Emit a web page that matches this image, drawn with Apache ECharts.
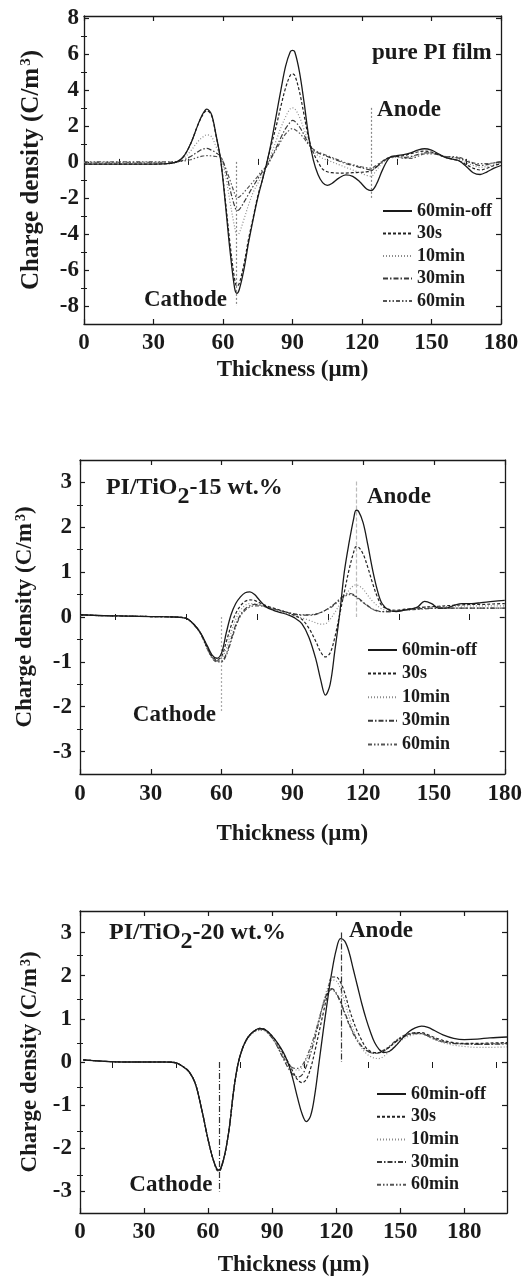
<!DOCTYPE html>
<html><head><meta charset="utf-8">
<script src="https://cdn.jsdelivr.net/npm/echarts@6/dist/echarts.min.js"></script>
<style>html,body{margin:0;padding:0;background:#fff}#c{width:525px;height:1278px}</style>
</head><body><div id="c"></div>
<script>
const NAMES = ['60min-off','30s','10min','30min','60min'];

// ---------- Panel 1 : pure PI film ----------
const X1 = [0,10,20,30,36, 40,43,46,49,51, 53,55,57,59,61, 63,65,66,67,69, 71,73,75,77,79, 81,83,85,87,89, 90,91,93,95,97, 99,101,103,105,107, 110,113,116,119,122, 124,126,129,132,135, 138,141,144,147,150, 153,156,159,162,165, 168,171,174,177,180];
const P1_OFF = [-0.12,-0.12,-0.12,-0.12,-0.1, 0.0,0.3,1.0,2.0,2.6, 2.93,2.65,1.5,0.1,-2.3, -4.9,-7.0,-7.3,-7.1,-6.0, -4.5,-3.2,-2.0,-1.0,0.0, 1.2,2.6,4.0,5.3,6.1, 6.19,6.1,5.0,3.3,1.4, 0.1,-0.7,-1.15,-1.3,-1.2, -0.9,-0.72,-0.8,-1.1,-1.5, -1.59,-1.3,-0.4,0.25,0.35, 0.4,0.5,0.65,0.73,0.65, 0.45,0.25,0.15,0.05,-0.25, -0.6,-0.7,-0.55,-0.35,-0.2];
const P1_30S = [-0.12,-0.12,-0.12,-0.12,-0.1, 0.0,0.3,1.0,2.0,2.55, 2.85,2.6,1.45,0.1,-2.1, -4.5,-6.5,-6.9,-6.75,-5.7, -4.3,-3.1,-1.9,-1.0,0.0, 1.0,2.0,3.1,4.1,4.8, 4.89,4.8,3.9,2.6,1.3, 0.5,0.0,-0.4,-0.55,-0.6, -0.62,-0.62,-0.6,-0.58,-0.55, -0.5,-0.3,0.05,0.25,0.3, 0.35,0.45,0.55,0.6,0.55, 0.4,0.25,0.15,0.05,-0.15, -0.35,-0.45,-0.35,-0.2,-0.1];
const P1_10M = [-0.05,-0.05,-0.05,-0.05,-0.05, 0.0,0.2,0.6,1.1,1.35, 1.5,1.4,0.85,0.25,-0.7, -2.2,-3.6,-4.05,-3.95,-3.2, -2.4,-1.7,-1.2,-0.7,-0.15, 0.5,1.2,1.9,2.5,2.95, 3.0,2.95,2.5,1.8,1.1, 0.6,0.35,0.2,0.1,0.0, -0.15,-0.3,-0.45,-0.6,-0.75, -0.8,-0.5,-0.05,0.2,0.25, 0.2,0.25,0.4,0.5,0.5, 0.4,0.3,0.25,0.15,-0.05, -0.2,-0.3,-0.25,-0.15,-0.05];
const P1_30M = [-0.02,-0.02,-0.02,-0.02,-0.02, 0.0,0.1,0.3,0.55,0.7, 0.75,0.65,0.5,0.3,-0.4, -1.5,-2.45,-2.7,-2.65,-2.25, -1.8,-1.35,-0.95,-0.55,-0.2, 0.3,0.8,1.35,1.85,2.2, 2.3,2.25,1.95,1.5,1.0, 0.65,0.5,0.4,0.3,0.2, 0.05,-0.1,-0.2,-0.3,-0.4, -0.45,-0.3,0.0,0.25,0.3, 0.25,0.3,0.4,0.5,0.5, 0.4,0.3,0.25,0.2,0.05, -0.1,-0.2,-0.15,-0.05,0.0];
const P1_60M = [0,0,0,0,0, 0.0,0.05,0.12,0.25,0.32, 0.35,0.33,0.3,0.25,-0.3, -1.0,-1.75,-1.98,-1.95,-1.7, -1.4,-1.1,-0.8,-0.45,-0.25, 0.25,0.7,1.15,1.55,1.8, 1.85,1.8,1.6,1.3,0.95, 0.7,0.55,0.45,0.35,0.25, 0.1,-0.05,-0.15,-0.25,-0.33, -0.35,-0.2,0.05,0.25,0.3, 0.2,0.2,0.3,0.45,0.45, 0.4,0.3,0.3,0.25,0.1, -0.05,-0.1,-0.1,-0.05,0.0];

// ---------- Panel 2 : PI/TiO2-15 wt.% ----------
const X2 = [0,10,20,30,40, 45,48,51,54,56, 58,60,62,64,66, 68,70,72,74,76, 79,82,85,88,91, 94,97,100,102,104, 106,108,110,112,114, 116,117,118,120,122, 124,126,128,131,134, 137,140,143,146,149, 152,155,158,162,166, 170,175,180];
const P2_OFF = [0.05,0.03,0.02,0.01,0.0, -0.03,-0.15,-0.35,-0.65,-0.85, -0.92,-0.8,-0.35,0.05,0.3, 0.45,0.54,0.56,0.5,0.38, 0.22,0.15,0.1,0.05,-0.02, -0.15,-0.45,-0.95,-1.4,-1.74, -1.5,-0.75,0.05,1.0,1.65, 2.2,2.38,2.36,2.1,1.6, 1.05,0.6,0.3,0.15,0.12, 0.15,0.18,0.22,0.35,0.3, 0.2,0.2,0.25,0.3,0.3, 0.32,0.35,0.37];
const P2_30S = [0.05,0.03,0.02,0.01,0.0, -0.03,-0.15,-0.35,-0.68,-0.88, -0.95,-0.88,-0.55,-0.2,0.08, 0.25,0.35,0.38,0.37,0.32, 0.25,0.2,0.15,0.1,0.03, -0.05,-0.25,-0.55,-0.78,-0.89, -0.8,-0.45,0.05,0.55,1.05, 1.45,1.57,1.56,1.4,1.1, 0.75,0.45,0.25,0.17,0.15, 0.17,0.18,0.2,0.22,0.23, 0.24,0.25,0.26,0.27,0.28, 0.28,0.29,0.3];
const P2_10M = [0.04,0.03,0.02,0.01,0.0, -0.03,-0.15,-0.35,-0.7,-0.9, -0.98,-0.93,-0.7,-0.35,-0.05, 0.15,0.26,0.3,0.3,0.27, 0.22,0.17,0.12,0.07,0.03, -0.02,-0.07,-0.13,-0.16,-0.15, -0.05,0.1,0.28,0.45,0.6, 0.7,0.72,0.7,0.62,0.48, 0.35,0.25,0.18,0.14,0.14, 0.16,0.18,0.2,0.22,0.22, 0.23,0.23,0.24,0.24,0.25, 0.25,0.25,0.25];
const P2_30M = [0.04,0.03,0.02,0.01,0.0, -0.03,-0.15,-0.35,-0.7,-0.9, -0.98,-0.98,-0.82,-0.5,-0.18, 0.05,0.18,0.25,0.28,0.27, 0.23,0.18,0.14,0.1,0.06, 0.04,0.04,0.06,0.1,0.15, 0.22,0.3,0.4,0.48,0.53, 0.5,0.46,0.42,0.33,0.25, 0.18,0.14,0.12,0.12,0.13, 0.15,0.17,0.18,0.19,0.2, 0.2,0.2,0.2,0.2,0.2, 0.2,0.2,0.2];
const P2_60M = [0.04,0.03,0.02,0.01,0.0, -0.03,-0.16,-0.37,-0.72,-0.92, -1.0,-1.0,-0.85,-0.55,-0.22, 0.02,0.15,0.22,0.25,0.25, 0.22,0.18,0.14,0.1,0.07, 0.05,0.05,0.07,0.1,0.15, 0.2,0.28,0.37,0.45,0.5, 0.48,0.45,0.4,0.32,0.24, 0.17,0.13,0.12,0.12,0.13, 0.15,0.16,0.17,0.18,0.19, 0.2,0.2,0.2,0.2,0.2, 0.2,0.2,0.2];

// ---------- Panel 3 : PI/TiO2-20 wt.% ----------
const X3 = [1.5,10,20,30,40, 45,48,51,54,57, 60,62,64,65,66, 68,70,72,74,76, 78,80,82,84,86, 88,90,92,94,96, 98,100,102,104,106, 108,110,112,114,116, 118,120,122,124,126, 128,130,132,134,136, 138,140,142,145,148, 151,154,157,160,163, 166,170,175,180,186, 192,200];
const P3_OFF = [0.05,0.02,0.0,0.0,0.0, -0.02,-0.1,-0.22,-0.5,-1.1, -1.8,-2.2,-2.47,-2.5,-2.45, -2.1,-1.5,-0.65,-0.05,0.3, 0.52,0.65,0.73,0.78,0.77, 0.7,0.6,0.48,0.33,0.15, -0.1,-0.45,-0.85,-1.2,-1.38, -1.25,-0.75,0.0,0.75,1.45, 2.1,2.6,2.86,2.8,2.55, 2.15,1.75,1.35,1.0,0.7, 0.45,0.3,0.22,0.25,0.38, 0.55,0.7,0.79,0.83,0.8, 0.73,0.63,0.55,0.52,0.53, 0.56,0.58];
const P3_30S = [0.05,0.02,0.0,0.0,0.0, -0.02,-0.1,-0.22,-0.5,-1.1, -1.8,-2.2,-2.5,-2.53,-2.48, -2.1,-1.5,-0.65,-0.05,0.3, 0.52,0.65,0.73,0.78,0.77, 0.7,0.6,0.47,0.3,0.12, -0.05,-0.25,-0.42,-0.48,-0.4, -0.15,0.25,0.7,1.15,1.6, 1.97,1.97,1.85,1.6,1.25, 0.95,0.7,0.5,0.33,0.25, 0.22,0.22,0.25,0.35,0.48, 0.58,0.65,0.68,0.68,0.63, 0.57,0.5,0.45,0.43,0.43, 0.44,0.45];
const P3_10M = [0.05,0.02,0.0,0.0,0.0, -0.02,-0.1,-0.22,-0.5,-1.1, -1.8,-2.2,-2.48,-2.52,-2.47, -2.1,-1.5,-0.65,-0.05,0.3, 0.5,0.63,0.7,0.73,0.73, 0.67,0.56,0.42,0.25,0.08, -0.05,-0.15,-0.19,-0.13,0.05, 0.3,0.65,1.0,1.4,1.72, 1.9,1.88,1.7,1.4,1.05, 0.75,0.5,0.32,0.2,0.13, 0.09,0.08,0.12,0.25,0.4, 0.52,0.6,0.64,0.65,0.6, 0.52,0.45,0.39,0.36,0.34, 0.34,0.35];
const P3_30M = [0.05,0.02,0.0,0.0,0.0, -0.02,-0.1,-0.22,-0.5,-1.1, -1.8,-2.2,-2.48,-2.52,-2.47, -2.1,-1.5,-0.65,-0.05,0.3, 0.52,0.65,0.73,0.76,0.75, 0.68,0.56,0.4,0.2,0.0, -0.18,-0.3,-0.35,-0.3,-0.1, 0.2,0.55,0.95,1.35,1.62, 1.7,1.6,1.4,1.15,0.9, 0.68,0.5,0.37,0.28,0.22, 0.2,0.21,0.25,0.35,0.47, 0.57,0.63,0.66,0.66,0.6, 0.54,0.47,0.43,0.42,0.41, 0.41,0.42];
const P3_60M = [0.05,0.02,0.0,0.0,0.0, -0.02,-0.1,-0.22,-0.5,-1.1, -1.8,-2.2,-2.48,-2.52,-2.47, -2.1,-1.5,-0.65,-0.05,0.3, 0.52,0.65,0.72,0.75,0.74, 0.67,0.55,0.4,0.22,0.05, -0.08,-0.14,-0.15,-0.08,0.1, 0.35,0.65,1.0,1.35,1.6, 1.68,1.58,1.38,1.12,0.87, 0.65,0.48,0.35,0.27,0.22, 0.2,0.22,0.27,0.37,0.5, 0.6,0.65,0.67,0.66,0.6, 0.53,0.47,0.43,0.42,0.41, 0.42,0.43];

// ---------- ticks ----------
const X_MAJ = [0,30,60,90,120,150,180];
const X_MIN_12 = [15,45,75,105,135,165];
const X_MIN_3 = [15,45,75,105,135,165,195];
const Y_MAJ_1 = [-8,-6,-4,-2,0,2,4,6,8];
const Y_MIN_1 = [-7,-5,-3,-1,1,3,5,7];
const Y_MAJ_23 = [-3,-2,-1,0,1,2,3];
const Y_MIN_23 = [-2.5,-1.5,-0.5,0.5,1.5,2.5];

const FONT = '"Liberation Serif", "Times New Roman", serif';
const INK = '#1a1a1a';
const STYLE = {
  '60min-off': {color:'#1a1a1a', width:1.3, type:'solid'},
  '30s':       {color:'#222222', width:1.2, type:[3,2]},
  '10min':     {color:'#8c8c8c', width:1.2, type:[1,2]},
  '30min':     {color:'#3a3a3a', width:1.2, type:[5,2,1.5,2]},
  '60min':     {color:'#555555', width:1.2, type:[4,2,1.5,2,1.5,2]}
};

const panels = [
  {rect:{left:84, top:16, width:417, height:308}, xMax:180, yMin:-9, yMax:8.1,
   xMaj:X_MAJ, xMin:X_MIN_12, yMaj:Y_MAJ_1, yMin_:Y_MIN_1,
   xGap:35, xMargin:8, yGap:40, yMargin:5, yNameSize:25,
   xs:X1, ys:[P1_OFF,P1_30S,P1_10M,P1_30M,P1_60M],
   legend:{left:382, top:202, gap:4.5},
   refs:[{x:65.9, y0:0, y1:-8, c:'#888', t:[2,2]}, {x:123.9, y0:3.0, y1:-2.1, c:'#888', t:[2,2]}],
   texts:[{c:[176,6.06], s:'pure PI film', a:'right'}, {c:[126.5,2.9], s:'Anode', a:'left'}, {c:[61.7,-7.67], s:'Cathode', a:'right'}]},
  {rect:{left:80, top:460, width:425, height:314}, xMax:180, yMin:-3.5, yMax:3.5,
   xMaj:X_MAJ, xMin:X_MIN_12, yMaj:Y_MAJ_23, yMin_:Y_MIN_23,
   xGap:49, xMargin:9, yGap:43, yMargin:8, yNameSize:23,
   xs:X2, ys:[P2_OFF,P2_30S,P2_10M,P2_30M,P2_60M],
   legend:{left:367, top:641, gap:5.6},
   refs:[{x:60.0, y0:0, y1:-2.11, c:'#aaa', t:[2,2]}, {x:117.2, y0:3.02, y1:0, c:'#bbb', t:[4,2]}],
   texts:[{c:[11,2.78], s:'15', a:'left', rich:true}, {c:[121.6,2.67], s:'Anode', a:'left'}, {c:[57.6,-2.19], s:'Cathode', a:'right'}]},
  {rect:{left:80, top:911, width:427, height:308}, xMax:200, yMin:-3.5, yMax:3.5,
   xMaj:X_MAJ, xMin:X_MIN_3, yMaj:Y_MAJ_23, yMin_:Y_MIN_23,
   xGap:41, xMargin:8, yGap:25, yMargin:8, yNameSize:23,
   xs:X3, ys:[P3_OFF,P3_30S,P3_10M,P3_30M,P3_60M],
   legend:{left:376, top:1085, gap:4.7},
   refs:[{x:65.0, y0:0, y1:-3.0, c:'#333', t:[6,2,1,2]}, {x:122.2, y0:3.0, y1:0, c:'#333', t:[6,2,1,2]}],
   texts:[{c:[13.6,2.9], s:'20', a:'left', rich:true}, {c:[126,3.03], s:'Anode', a:'left'}, {c:[62,-2.86], s:'Cathode', a:'right'}]}
];

const grid = [], xAxis = [], yAxis = [], series = [], legend = [];
const lbl = {fontFamily:FONT, fontWeight:'bold', fontSize:23, color:INK};
const axLine = {show:true, onZero:false, lineStyle:{color:INK, width:1.3}};

panels.forEach((p) => {
  const gMain = grid.length; grid.push(Object.assign({}, p.rect));
  const gMinor = grid.length; grid.push(Object.assign({}, p.rect));
  const xb = xAxis.length, yb = yAxis.length;
  const xBase = {type:'value', min:0, max:p.xMax, splitLine:{show:false}};
  const yBase = {type:'value', min:p.yMin, max:p.yMax, splitLine:{show:false}};
  xAxis.push(Object.assign({}, xBase, {gridIndex:gMain, position:'bottom', axisLine:axLine,
    axisTick:{show:true, inside:true, length:5, customValues:p.xMaj, lineStyle:{color:INK, width:1.2}},
    axisLabel:Object.assign({customValues:p.xMaj, margin:p.xMargin}, lbl),
    name:'Thickness (μm)', nameLocation:'middle', nameGap:p.xGap, nameTextStyle:lbl}));
  xAxis.push(Object.assign({}, xBase, {gridIndex:gMain, position:'top', axisLine:axLine,
    axisTick:{show:true, inside:true, length:5, customValues:p.xMaj, lineStyle:{color:INK, width:1.2}},
    axisLabel:{show:false}}));
  yAxis.push(Object.assign({}, yBase, {gridIndex:gMain, position:'left', axisLine:axLine,
    axisTick:{show:true, inside:true, length:5, customValues:p.yMaj, lineStyle:{color:INK, width:1.2}},
    axisLabel:Object.assign({customValues:p.yMaj, margin:p.yMargin}, lbl),
    name:'{m|Charge density (C/m}{s|3}{m|)}', nameLocation:'middle', nameGap:p.yGap, nameRotate:90,
    nameTextStyle:{rich:{m:{fontFamily:FONT, fontWeight:'bold', fontSize:p.yNameSize, color:INK, verticalAlign:'bottom'},
                         s:{fontFamily:FONT, fontWeight:'bold', fontSize:Math.round(p.yNameSize*0.6), color:INK, verticalAlign:'top', padding:[0,0,0,2]}}}}));
  yAxis.push(Object.assign({}, yBase, {gridIndex:gMain, position:'right', axisLine:axLine,
    axisTick:{show:true, inside:true, length:5, customValues:p.yMaj, lineStyle:{color:INK, width:1.2}},
    axisLabel:{show:false}}));
  const minorTick = (vals) => ({show:true, inside:true, length:3, customValues:vals, lineStyle:{color:INK, width:1}});
  xAxis.push(Object.assign({}, xBase, {gridIndex:gMinor, position:'bottom', axisLine:{show:false}, axisTick:minorTick(p.xMin), axisLabel:{show:false}}));
  xAxis.push(Object.assign({}, xBase, {gridIndex:gMinor, position:'top', axisLine:{show:false}, axisTick:minorTick(p.xMin), axisLabel:{show:false}}));
  yAxis.push(Object.assign({}, yBase, {gridIndex:gMinor, position:'left', axisLine:{show:false}, axisTick:minorTick(p.yMin_), axisLabel:{show:false}}));
  yAxis.push(Object.assign({}, yBase, {gridIndex:gMinor, position:'right', axisLine:{show:false}, axisTick:minorTick(p.yMin_), axisLabel:{show:false}}));

  NAMES.forEach((nm, k) => {
    const st = STYLE[nm];
    const s = {type:'line', name:nm, xAxisIndex:xb, yAxisIndex:yb, smooth:0.35, symbol:'none', silent:true,
      data:p.xs.map((x, j) => [x, p.ys[k][j]]),
      itemStyle:{color:st.color}, lineStyle:{color:st.color, width:st.width, type:st.type}, z:10-k};
    if (k === 0) {
      s.markLine = {silent:true, symbol:['none','none'], label:{show:false}, animation:false,
        data:p.refs.map(r => [{coord:[r.x, r.y0], lineStyle:{color:r.c, type:r.t, width:1.2}}, {coord:[r.x, r.y1]}])};
      s.markPoint = {silent:true, symbol:'circle', symbolSize:0, animation:false,
        data:p.texts.map(t => {
          const d = {coord:t.c, itemStyle:{color:'transparent'}};
          if (t.rich) {
            d.label = {show:true, position:'inside', align:t.a, verticalAlign:'middle',
              formatter:'{a|PI/TiO}{b|2}{a|-' + t.s + ' wt.%}',
              rich:{a:{fontFamily:FONT, fontWeight:'bold', fontSize:24, color:INK, verticalAlign:'top'},
                    b:{fontFamily:FONT, fontWeight:'bold', fontSize:24, color:INK, lineHeight:33, verticalAlign:'bottom'}}};
          } else {
            d.label = Object.assign({show:true, position:'inside', align:t.a, verticalAlign:'middle', formatter:t.s}, lbl);
          }
          return d;
        })};
    }
    series.push(s);
  });

  legend.push({left:p.legend.left, top:p.legend.top, orient:'vertical', padding:0, itemWidth:29, itemHeight:12, itemGap:p.legend.gap,
    selectedMode:false, data:NAMES, itemStyle:{opacity:0, borderWidth:0},
    textStyle:{fontFamily:FONT, fontWeight:'bold', fontSize:18, color:INK}});
});

const chart = echarts.init(document.getElementById('c'), null, {renderer:'canvas'});
chart.setOption({animation:false, backgroundColor:'#fff', textStyle:{fontFamily:FONT},
  grid, xAxis, yAxis, series, legend});
</script>
</body></html>
